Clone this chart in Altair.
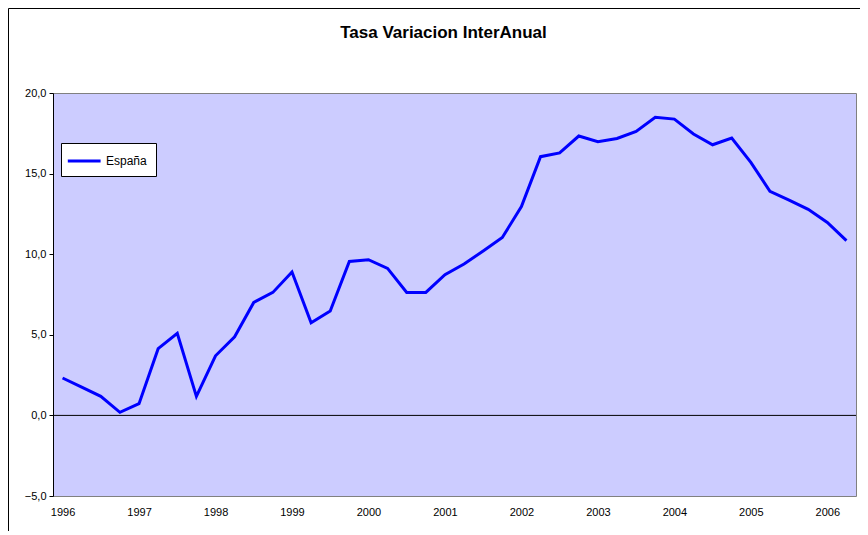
import altair as alt
import pandas as pd

years = list(range(1996, 2007))
periodos = [f"{y}-{q}" for y in years for q in (1, 2, 3, 4)][:42]
espana = [2.32, 1.75, 1.18, 0.19, 0.73, 4.14, 5.09, 1.18,
          3.70, 4.88, 7.01, 7.63, 8.90, 5.75, 6.48, 9.55,
          9.66, 9.12, 7.63, 7.63, 8.73, 9.39, 10.20, 11.04,
          12.95, 16.05, 16.28, 17.33, 16.98, 17.18, 17.62, 18.49,
          18.38, 17.46, 16.79, 17.21, 15.70, 13.90, 13.36, 12.78,
          11.97, 10.84]
serie = "España"
y_ticks = [-5, 0, 5, 10, 15, 20]

df = pd.DataFrame({"periodo": periodos, "valor": espana, "serie": serie})

FONT = "Liberation Sans"

x_enc = alt.X(
    "periodo:O", sort=None,
    scale=alt.Scale(type="point", padding=0.5),
    axis=alt.Axis(
        title=None, ticks=False, domain=False, labelAngle=0,
        labelExpr="split(datum.value, '-')[1] == '1' ? split(datum.value, '-')[0] : ''",
        labelOverlap=False, labelFlush=False, labelFontSize=11, labelFont=FONT,
        labelColor="black", labelPadding=10,
    ),
)
y_enc = alt.Y(
    "valor:Q",
    scale=alt.Scale(domain=[-5, 20], nice=False, zero=False),
    axis=alt.Axis(
        title=None, values=y_ticks, grid=False,
        labelExpr="replace(format(datum.value, '.1f'), '.', ',')",
        domainColor="black", tickColor="black", tickSize=4, labelPadding=3,
        labelFontSize=11, labelFont=FONT, labelColor="black",
    ),
)

line = alt.Chart(df).mark_line(strokeWidth=3).encode(
    x=x_enc, y=y_enc,
    color=alt.Color("serie:N", scale=alt.Scale(domain=[serie], range=["#0000FF"]),
                    legend=alt.Legend(title=None)),
)

zero = alt.Chart(pd.DataFrame({"y": [0]})).mark_rule(color="black", strokeWidth=1).encode(
    y=alt.Y("y:Q")
)

border_left = alt.Chart(pd.DataFrame({"a": [0]})).mark_rule(color="black", strokeWidth=1).encode(
    x=alt.value(-44.5), y=alt.value(-84.5), y2=alt.value(440)
)
border_top = alt.Chart(pd.DataFrame({"a": [0]})).mark_rule(color="black", strokeWidth=1).encode(
    x=alt.value(-44.5), x2=alt.value(812), y=alt.value(-84.5)
)

chart = alt.layer(border_left, border_top, zero, line).properties(
    width=803, height=403,
    autosize=alt.AutoSizeParams(type="none"),
    padding={"left": 45, "top": 85, "right": 4, "bottom": 35},
    title=alt.TitleParams("Tasa Variacion InterAnual", font=FONT, fontSize=17,
                          fontWeight="bold", color="black", anchor="middle",
                          frame="group", offset=0, dx=-11, dy=34),
    background="white",
).configure_view(
    fill="#CCCCFF", stroke="#808080", strokeWidth=1
).configure_legend(
    orient="none", legendX=8, legendY=50,
    strokeColor="black", fillColor="white", padding=8.5,
    symbolType="M-1.4,0H2.7", symbolSize=256, symbolStrokeWidth=3,
    labelFontSize=12, labelFont=FONT, labelColor="black", labelOffset=17.5,
    cornerRadius=0,
)

chart.save("out.html", embed_options={"renderer": "svg", "actions": False})
